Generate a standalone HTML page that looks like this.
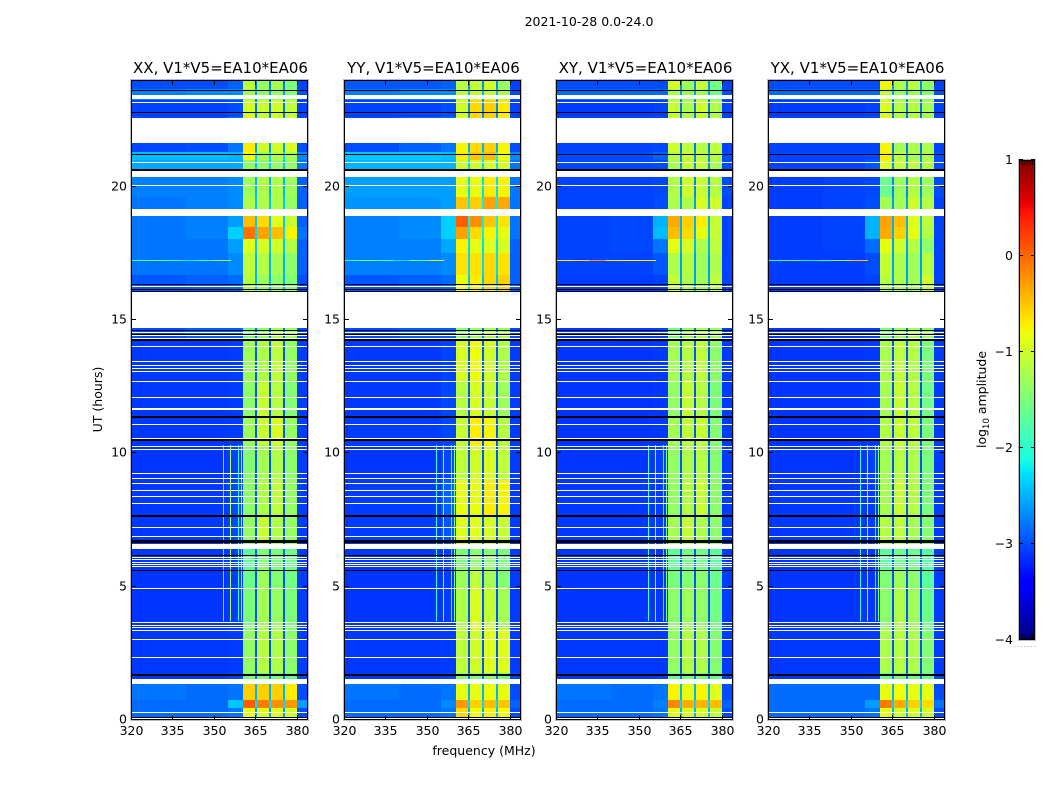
<!DOCTYPE html>
<html lang="en">
<head>
<meta charset="utf-8">
<title>2021-10-28 0.0-24.0</title>
<style>
html,body{margin:0;padding:0;background:#fff;width:1050px;height:800px;overflow:hidden}
svg{display:block}
text{font-family:"DejaVu Sans","Liberation Sans",sans-serif;fill:#000}
</style>
</head>
<body>
<svg id="chart" xmlns="http://www.w3.org/2000/svg" width="1050" height="800" viewBox="0 0 1050 800">
  <text x="589" y="26" font-size="12.5" text-anchor="middle">2021-10-28 0.0-24.0</text>
  <text x="484" y="755" font-size="12.5" text-anchor="middle">frequency (MHz)</text>
  <text transform="translate(102,399.5) rotate(-90)" font-size="12.5" text-anchor="middle">UT (hours)</text>
  <text transform="translate(986,399.5) rotate(-90)" font-size="12.5" text-anchor="middle">log<tspan font-size="8.5" dy="3">10</tspan><tspan dy="-3"> amplitude</tspan></text>
  <g id="panels"></g>
  <g id="cbar"></g>
</svg>
<script>
// ---- data (log10 amplitude) ----
const panelTitles = ["XX, V1*V5=EA10*EA06","YY, V1*V5=EA10*EA06","XY, V1*V5=EA10*EA06","YX, V1*V5=EA10*EA06"];
const panelLeft = [131,344,556,768];
const freqTicks = [320,335,350,365,380];
const hourTicks = [0,5,10,15,20];
const cbarTicks = [1,0,-1,-2,-3,-4];
// band edges in MHz: bgL, bgM, bgR, w1, gap, w2, gap, w3, gap, w4, right
const bandEdges = [320,340,355,360.4,364.8,365.6,370,370.8,374.9,375.7,380,384];
// which table column each band reads
const bandColumn = [0,1,2,3,7,4,7,5,7,6,8];
const rowEdges = [0,.45,.75,1.35,1.75,3.4,5,5.65,6.45,7.65,9,10.3,11.4,12.7,14.3,16.1,16.7,17.5,18.05,18.5,19,19.6,20.4,21,21.3,22.6,23.25,23.65,24];
// rows bottom to top; columns: bgL,bgM,bgR,w1,w2,w3,w4,gap,right
const xxValues = [
[-2.85,-2.85,-2.8,-.85,-.9,-.9,-1,-2.6,-3],
[-2.85,-2.85,-2.4,.05,-.1,-.2,-.25,-2.3,-2.6],
[-2.8,-2.85,-2.8,-.55,-.55,-.55,-.7,-2.5,-3],
[-3.1,-3.1,-3.05,-1.5,-1.5,-1.5,-1.6,-2.8,-3.05],
[-3.1,-3.1,-3.08,-1.35,-1.15,-1.2,-1.4,-2.95,-3.08],
[-3.12,-3.12,-3.08,-1.5,-1.25,-1.35,-1.5,-2.95,-3.08],
[-3.12,-3.12,-3.08,-1.6,-1.3,-1.45,-1.55,-2.95,-3.08],
[-3.1,-3.1,-3.08,-1.7,-1.45,-1.5,-1.6,-2.85,-3.08],
[-3.1,-3.1,-3.02,-1.35,-1.05,-1.2,-1.35,-2.95,-3.08],
[-3.1,-3.1,-3.02,-1.4,-1.2,-1.1,-1.35,-2.95,-3.08],
[-3.12,-3.12,-3.05,-1.45,-1.25,-1.2,-1.4,-2.95,-3.08],
[-3.1,-3.1,-3.08,-1.3,-1.05,-.95,-1.35,-2.95,-3.08],
[-3.1,-3.1,-3.08,-1.4,-1.05,-1.15,-1.45,-2.95,-3.08],
[-3.1,-3.1,-3.08,-1.3,-1.2,-1.1,-1.35,-2.95,-3.08],
[-3,-2.9,-2.9,-1.5,-1.4,-1.2,-1.3,-2.8,-3],
[-2.95,-2.9,-2.85,-1.15,-1.3,-1.4,-1.45,-2.5,-3],
[-2.8,-2.8,-2.7,-1.1,-1.15,-1.25,-1.4,-2.5,-2.9],
[-2.8,-2.8,-2.6,-.9,-.95,-1,-1.15,-2.4,-2.9],
[-2.8,-2.75,-2.35,-.05,-.3,-.45,-.75,-2.3,-2.8],
[-2.8,-2.75,-2.6,-.45,-.6,-.9,-1.05,-2.4,-2.9],
[-2.8,-2.75,-2.7,-1.2,-1.2,-1.2,-1.35,-2.4,-2.9],
[-2.75,-2.75,-2.7,-1.3,-1.2,-1.2,-1.3,-2.5,-2.9],
[-2.55,-2.55,-2.55,-1.35,-1.4,-1.35,-1.35,-2.4,-2.8],
[-2.45,-2.45,-2.5,-.8,-1.25,-1.2,-1.25,-2.3,-2.7],
[-3.02,-3,-2.8,-.7,-1,-1,-.95,-2.6,-3],
[-3.05,-3.05,-3,-1,-1.05,-1,-1.1,-2.8,-3.05],
[-2.75,-2.7,-2.7,-1.25,-1.35,-1.35,-1.45,-2.6,-3],
[-3,-3,-2.9,-1.1,-1.35,-1.25,-1.5,-2.8,-3.05]];
const yyValues = [
[-2.85,-2.85,-2.8,-.6,-.8,-.75,-.8,-2.5,-3],
[-2.85,-2.85,-2.7,-.25,-.55,-.45,-.5,-2.3,-2.9],
[-2.8,-2.85,-2.8,-.85,-.85,-.8,-.85,-2.5,-3],
[-3.1,-3.1,-3.05,-1.4,-1.4,-1.4,-1.5,-2.8,-3.05],
[-3.1,-3.1,-3.08,-1.1,-1,-.9,-.9,-2.95,-3.08],
[-3.12,-3.12,-3.08,-1.2,-.95,-1.05,-1.25,-2.95,-3.08],
[-3.12,-3.12,-3.08,-1.3,-1.1,-1.25,-1.45,-2.95,-3.08],
[-3.1,-3.1,-3.08,-1.5,-1.4,-1.4,-1.5,-2.85,-3.08],
[-3.08,-3.08,-2.95,-.9,-.9,-.95,-1.05,-2.95,-3.08],
[-3.08,-3.08,-2.9,-.85,-.85,-.7,-.75,-2.95,-3.08],
[-3.12,-3.12,-3.02,-1.1,-1,-.95,-1.1,-2.95,-3.08],
[-3.08,-3.08,-3.02,-1.05,-.7,-.75,-1.15,-2.95,-3.08],
[-3.1,-3.1,-3.02,-1.15,-.95,-1.05,-1.3,-2.95,-3.08],
[-3.1,-3.1,-3.05,-.95,-.8,-1,-1.2,-2.95,-3.08],
[-3,-2.9,-2.9,-1.4,-1.3,-1.2,-1.3,-2.8,-3],
[-2.95,-2.9,-2.85,-.8,-.7,-.6,-.55,-2.4,-2.9],
[-2.75,-2.75,-2.7,-.65,-.65,-.6,-.65,-2.3,-2.9],
[-2.75,-2.75,-2.55,-.75,-.85,-.9,-.95,-2.3,-2.9],
[-2.75,-2.7,-2.35,-.3,-.6,-.75,-.85,-2.2,-2.8],
[-2.75,-2.7,-2.35,.05,-.2,-.5,-.65,-2.2,-2.8],
[-2.65,-2.65,-2.6,-.5,-.55,-.3,-.35,-2.2,-2.8],
[-2.6,-2.6,-2.6,-.85,-.85,-.7,-.75,-2.3,-2.8],
[-2.5,-2.5,-2.5,-1,-1,-.95,-.95,-2.3,-2.8],
[-2.4,-2.4,-2.45,-.7,-.5,-.45,-.8,-2.2,-2.7],
[-3,-2.9,-2.8,-.75,-.6,-.55,-.75,-2.5,-3],
[-3.05,-3.05,-3,-1,-.6,-.55,-.7,-2.7,-3.05],
[-2.75,-2.7,-2.7,-1.1,-1.05,-1.05,-1.2,-2.5,-3],
[-2.95,-2.95,-2.9,-1.15,-1.1,-1,-1.35,-2.7,-3.05]];
const xyValues = [
[-2.85,-2.85,-2.8,-.85,-.95,-.95,-1.05,-2.5,-3],
[-2.85,-2.85,-2.75,-.15,-.35,-.4,-.45,-2.3,-2.9],
[-2.8,-2.85,-2.8,-.75,-.85,-.75,-.9,-2.5,-3],
[-3.1,-3.1,-3.08,-1.6,-1.5,-1.5,-1.6,-2.8,-3.05],
[-3.1,-3.1,-3.1,-1.35,-1.15,-1.2,-1.45,-2.95,-3.08],
[-3.12,-3.12,-3.1,-1.4,-1.3,-1.35,-1.55,-2.95,-3.08],
[-3.12,-3.12,-3.1,-1.5,-1.45,-1.4,-1.6,-2.95,-3.08],
[-3.12,-3.12,-3.1,-1.7,-1.55,-1.55,-1.7,-2.95,-3.08],
[-3.1,-3.1,-3.08,-1.25,-1.05,-1.2,-1.4,-2.95,-3.08],
[-3.1,-3.1,-3.08,-1.35,-1.15,-1.05,-1.4,-2.95,-3.08],
[-3.12,-3.12,-3.05,-1.35,-1.2,-1.15,-1.45,-2.95,-3.08],
[-3.12,-3.12,-3.1,-1.25,-1.1,-1.05,-1.45,-2.95,-3.08],
[-3.12,-3.12,-3.1,-1.35,-1.05,-1.15,-1.5,-2.95,-3.08],
[-3.12,-3.12,-3.1,-1.25,-1.15,-1.1,-1.4,-2.95,-3.08],
[-3.1,-3.08,-3.05,-1.5,-1.3,-1.2,-1.3,-2.8,-3.05],
[-3.08,-3.08,-3.05,-1.05,-1.2,-1.25,-1.1,-2.6,-3.05],
[-3.05,-3.05,-2.95,-1.2,-1.15,-1.3,-1.2,-2.6,-3.05],
[-3.05,-3.02,-2.8,-.85,-.95,-1.2,-1.1,-2.5,-3.05],
[-3.05,-3.02,-2.45,-.45,-.6,-.85,-1.05,-2.5,-3.05],
[-3.05,-3.02,-2.5,-.35,-.55,-.7,-1.05,-2.5,-3.05],
[-3.05,-3.05,-3,-1.2,-1.2,-.95,-1,-2.6,-3.05],
[-3.05,-3.05,-3.02,-1.2,-1,-1.05,-1.15,-2.7,-3],
[-3.02,-3.02,-3,-1.25,-1.05,-1.05,-1.25,-2.7,-3],
[-3.02,-3.02,-2.9,-1.15,-1.05,-1.1,-1.15,-2.7,-3],
[-3.05,-3.05,-3.02,-1,-1.1,-1.15,-1.1,-2.8,-3.05],
[-3.08,-3.08,-3.05,-1.05,-1.2,-1,-1.2,-2.8,-3.05],
[-2.85,-2.85,-2.85,-1.2,-1.3,-1.25,-1.6,-2.6,-3],
[-3,-3,-3,-.95,-1.3,-1.05,-1.55,-2.7,-3.05]];
const yxValues = [
[-2.85,-2.85,-2.8,-.85,-1,-.95,-1,-2.5,-3],
[-2.85,-2.85,-2.6,-.1,-.35,-.55,-.6,-2.3,-2.8],
[-2.85,-2.85,-2.85,-.85,-.8,-.85,-.85,-2.5,-3],
[-3.1,-3.1,-3.08,-1.55,-1.5,-1.5,-1.6,-2.8,-3.05],
[-3.1,-3.1,-3.1,-1.2,-1.15,-1.2,-1.45,-2.95,-3.08],
[-3.12,-3.12,-3.1,-1.4,-1.2,-1.3,-1.6,-2.95,-3.08],
[-3.12,-3.12,-3.1,-1.45,-1.3,-1.4,-1.7,-2.95,-3.08],
[-3.12,-3.12,-3.1,-1.7,-1.6,-1.6,-1.75,-2.95,-3.08],
[-3.1,-3.1,-3.08,-1.15,-1.1,-1.25,-1.45,-2.95,-3.08],
[-3.1,-3.1,-3.08,-1.25,-1.05,-1.15,-1.5,-2.95,-3.08],
[-3.12,-3.12,-3.05,-1.25,-1.15,-1.2,-1.5,-2.95,-3.08],
[-3.12,-3.12,-3.1,-1.15,-1.05,-1.1,-1.5,-2.95,-3.08],
[-3.12,-3.12,-3.1,-1.25,-1.05,-1.15,-1.55,-2.95,-3.08],
[-3.12,-3.12,-3.1,-1.2,-1.1,-1.15,-1.5,-2.95,-3.08],
[-3.1,-3.08,-3.05,-1.5,-1.3,-1.2,-1.3,-2.8,-3.05],
[-3.08,-3.08,-3.05,-1.15,-1.2,-1.25,-1,-2.6,-3.05],
[-3.08,-3.08,-3,-1.05,-1.2,-1.3,-1.15,-2.6,-3.05],
[-3.08,-3.05,-2.85,-.85,-1,-1.15,-1.4,-2.6,-3.05],
[-3.08,-3.05,-2.5,-.35,-.55,-.85,-1.15,-2.5,-3.05],
[-3.08,-3.05,-2.5,-.3,-.45,-.9,-1.1,-2.5,-3.05],
[-3.08,-3.05,-3,-1.25,-1.25,-1,-1.15,-2.6,-3.05],
[-3.08,-3.05,-3.02,-1.6,-1.3,-1.15,-1.3,-2.7,-3],
[-3.05,-3.05,-2.95,-.9,-1.05,-1.1,-1.15,-2.7,-3],
[-3.05,-3.05,-3.02,-.7,-1.1,-1.25,-1.2,-2.7,-3],
[-3.05,-3.05,-3.05,-.75,-1.25,-1.2,-1.2,-2.8,-3.05],
[-3.08,-3.08,-3.05,-.95,-1.15,-1.15,-1.25,-2.8,-3.05],
[-2.85,-2.85,-2.85,-1.05,-1.35,-1.3,-1.45,-2.6,-3],
[-3,-3,-3,-.75,-1.2,-1.1,-1.4,-2.7,-3.05]];
const panelValues = [xxValues, yyValues, xyValues, yxValues];
// narrow interference lines
const lineFreqs = [353.2,355.7,358.7,359.6];
const lineValues = [-1.9,-1.2,-2,-1.5];
const lineFrom = 3.7;
const lineTo = 10.3;
// the sparse horizontal interference row at 17.25 h
const spikeHour = 17.25;
const spikeFreqs = [320,326,332,338,344,350,356];
const spikeXX = [-1.9,-1.6,-1.9,-2.2,-1.9,-1.3];
const spikeYY = [-1.9,-1.6,-2,-2.3,-1.7,-1.1];
const spikeXY = [-.9,-.6,-.2,-.9,-.8,-.7];
const spikeYX = [-1.9,-1.7,-2.2,-1.9,-1.4,-.5];
const spikeValues = [spikeXX, spikeYY, spikeXY, spikeYX];
// solid flag-out rows (hours from, hours to)
const whiteBandFrom = [23.28,21.64,20.37,18.9,14.69,6.41,1.35];
const whiteBandTo   = [23.44,22.58,20.6,19.16,16.08,6.61,1.54];
const whiteLines = [23.19,20.91,20.05,16.29,14.55,14.42,14.33,14.04,13.47,13.32,13.21,13.1,12.71,12.1,11.7,11.67,11.11,10.56,10.29,10.16,9.25,9.06,8.88,8.63,8.41,8.13,7.23,6.89,6.1,6.02,5.93,5.85,5.76,4.96,3.66,3.57,3.48,3.38,3.03,2.35,.29,.08];
const blackLines = [23.64,22.8,21.24,20.65,20.62,16.36,16.18,16.1,14.62,14.47,14.27,14.24,11.39,11.35,10.54,10.51,7.69,7.66,6.76,6.73,6.69,6.18,5.64,5.61,1.73,1.69,.12];

// ---- axes ----
const panelWidth = 177, panelTop = 80, panelHeight = 640;
const freqMin = 320, freqMax = 384, hourMax = 24;
const cbarX = 1019, cbarW = 16, cbarTop = 160, cbarH = 480;
const xScale = (left, mhz) => left + (mhz - freqMin) / (freqMax - freqMin) * panelWidth;
const yScale = h => panelTop + panelHeight - h / hourMax * panelHeight;
const cbarY = v => cbarTop + (1 - v) / 5 * cbarH;

// jet colour map on -4..1
function interp(nodes, t){
  for(let i = 1; i < nodes.length; i++){
    if(t <= nodes[i][0]){
      const a = nodes[i-1], b = nodes[i];
      return a[1] + (b[1]-a[1]) * (t-a[0]) / (b[0]-a[0]);
    }
  }
  return nodes[nodes.length-1][1];
}
const jetR = [[0,0],[.35,0],[.66,1],[.89,1],[1,.5]];
const jetG = [[0,0],[.125,0],[.375,1],[.64,1],[.91,0],[1,0]];
const jetB = [[0,.5],[.11,1],[.34,1],[.65,0],[1,0]];
function jet(v){
  const t = Math.min(1, Math.max(0, (v + 4) / 5));
  return 'rgb(' + [jetR,jetG,jetB].map(n => Math.round(255*interp(n,t))).join(',') + ')';
}

const NS = 'http://www.w3.org/2000/svg';
function make(parent, tag, attrs){
  const el = document.createElementNS(NS, tag);
  for(const k in attrs) el.setAttribute(k, attrs[k]);
  parent.appendChild(el);
  return el;
}
function cellRect(g, x0, x1, y0, y1, fill){
  const X0 = Math.round(x0), X1 = Math.max(Math.round(x1), X0+1);
  const Y0 = Math.round(y0), Y1 = Math.max(Math.round(y1), Y0+1);
  return make(g, 'rect', {x:X0, y:Y0, width:X1-X0, height:Y1-Y0, fill:fill, 'shape-rendering':'crispEdges'});
}
function label(g, x, y, txt, size, anchor){
  const t = make(g, 'text', {x:x, y:y, 'font-size':size, 'text-anchor':anchor});
  t.textContent = txt;
  return t;
}

const panelsG = document.getElementById('panels');
panelTitles.forEach((title, p) => {
  const left = panelLeft[p];
  const g = make(panelsG, 'g', {});
  
  

  panelValues[p].forEach((row, r) => {
    bandColumn.forEach((col, b) => {
      const c = cellRect(g, xScale(left, bandEdges[b]), xScale(left, bandEdges[b+1]), yScale(rowEdges[r+1]), yScale(rowEdges[r]), jet(row[col]));
      
      
    });
  });

  lineFreqs.forEach((f, i) => {
    const c = cellRect(g, xScale(left, f), xScale(left, f) + 1, yScale(lineTo), yScale(lineFrom), jet(lineValues[i]));
    
    
  });

  spikeValues[p].forEach((v, i) => {
    const y = yScale(spikeHour);
    const c = cellRect(g, xScale(left, spikeFreqs[i]), xScale(left, spikeFreqs[i+1]), y, y + 1, jet(v));
    
    
  });

  whiteBandFrom.forEach((h, i) => {
    const c = cellRect(g, left, left + panelWidth, yScale(whiteBandTo[i]), yScale(h), '#fff');
    
    
  });
  whiteLines.forEach(h => {
    const y = yScale(h);
    const c = cellRect(g, left, left + panelWidth, y, y + 1, '#fff');
    
    
  });
  blackLines.forEach(h => {
    const y = yScale(h);
    const c = cellRect(g, left, left + panelWidth, y, y + 1, '#000');
    
    
  });

  const frame = make(g, 'rect', {x:left+.5, y:panelTop+.5, width:panelWidth-1, height:panelHeight-1, fill:'none', stroke:'#000', 'stroke-width':1, 'shape-rendering':'crispEdges'});
  
  
  const halo = make(g, 'rect', {x:left-.5, y:panelTop-.5, width:panelWidth+1, height:panelHeight+1, fill:'none', stroke:'#bbb', 'stroke-width':1, 'shape-rendering':'crispEdges'});
  
  

  freqTicks.forEach(f => {
    const x = Math.round(xScale(left, f)) + .5;
    const t1 = make(g, 'line', {x1:x, x2:x, y1:panelTop+panelHeight, y2:panelTop+panelHeight-5, stroke:'#000', 'shape-rendering':'crispEdges'});
    
    
    const t2 = make(g, 'line', {x1:x, x2:x, y1:panelTop, y2:panelTop+5, stroke:'#000', 'shape-rendering':'crispEdges'});
    
    
    const l = label(g, x, 735, String(f), 12.5, 'middle');
    
    
  });
  hourTicks.forEach(h => {
    const y = Math.round(yScale(h)) - .5;
    const t1 = make(g, 'line', {x1:left, x2:left+5, y1:y, y2:y, stroke:'#000', 'shape-rendering':'crispEdges'});
    
    
    const t2 = make(g, 'line', {x1:left+panelWidth, x2:left+panelWidth-5, y1:y, y2:y, stroke:'#000', 'shape-rendering':'crispEdges'});
    
    
    const l = label(g, left-4, y+4, String(h), 12.5, 'end');
    
    
  });

  const ttl = label(g, left + panelWidth/2 + 1, 73, title, 15, 'middle');
  
  
});

// colorbar
const cb = document.getElementById('cbar');
for(let i = 0; i < 160; i++){
  const y0 = cbarTop + i * cbarH / 160;
  const v = 1 - (i + .5) / 160 * 5;
  const c = cellRect(cb, cbarX, cbarX + cbarW, y0, y0 + cbarH / 160, jet(v));
  
  
}
const cf = make(cb, 'rect', {x:cbarX+.5, y:cbarTop+.5, width:cbarW-1, height:cbarH-1, fill:'none', stroke:'#000', 'shape-rendering':'crispEdges'});


const ch = make(cb, 'rect', {x:cbarX-.5, y:cbarTop-.5, width:cbarW+1, height:cbarH+1, fill:'none', stroke:'#bbb', 'shape-rendering':'crispEdges'});


cbarTicks.forEach(v => {
  const y = Math.round(cbarY(v)) - .5;
  const t = make(cb, 'path', {d:'M'+cbarX+' '+y+'h4M'+(cbarX+cbarW)+' '+y+'h-4', stroke:'#000', fill:'none', 'shape-rendering':'crispEdges'});
  
  
  const l = label(cb, cbarX-6, Math.min(Math.max(y+4.5, 0), 644), (v < 0 ? '\u2212' + (-v) : String(v)), 12.5, 'end');
  
  
});
for(let i = 0; i < 5; i++){
  const x = cbarX + 3.5 + i * 2.5;
  const a = make(cb, 'line', {x1:x, x2:x, y1:cbarTop, y2:cbarTop+5, stroke:'#000', 'stroke-width':.8});
  
  
  const b = make(cb, 'line', {x1:x, x2:x, y1:cbarTop+cbarH, y2:cbarTop+cbarH-6, stroke:'#000', 'stroke-width':.8});
  
  
}
for(let i = 0; i < 6; i++){
  const d = make(cb, 'rect', {x:1017.5 + i * 3.4, y:646, width:1, height:1, fill:'#aaa'});
  
  
}
</script>
</body>
</html>
